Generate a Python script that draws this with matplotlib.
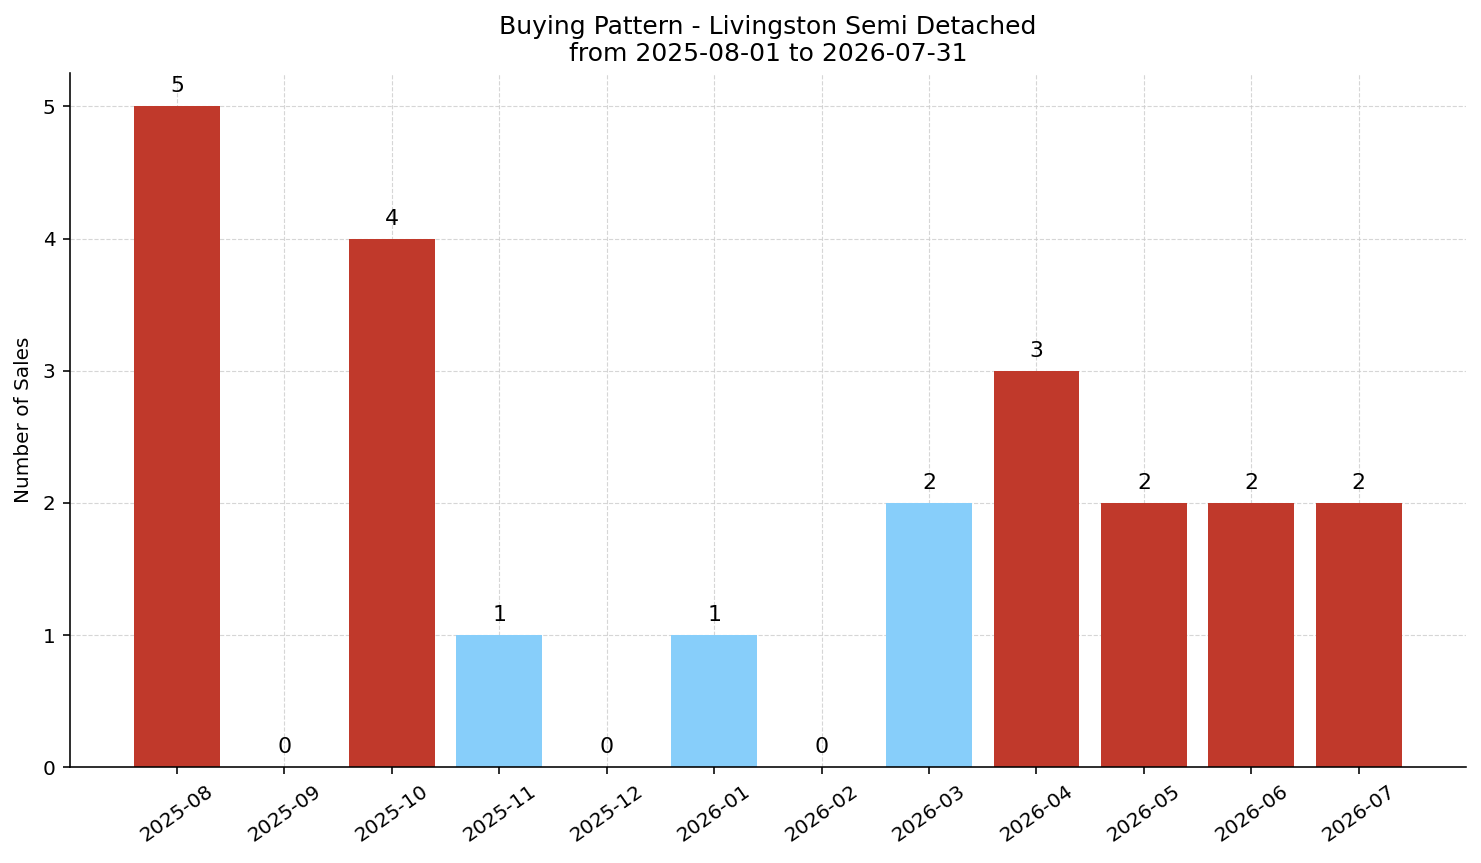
import matplotlib
matplotlib.use("Agg")
import matplotlib.pyplot as plt

months = ["2025-08", "2025-09", "2025-10", "2025-11", "2025-12", "2026-01",
          "2026-02", "2026-03", "2026-04", "2026-05", "2026-06", "2026-07"]
sales = [5, 0, 4, 1, 0, 1, 0, 2, 3, 2, 2, 2]
colors = ["#c0392b", "#87cefa", "#c0392b", "#87cefa", "#87cefa", "#87cefa",
          "#87cefa", "#87cefa", "#c0392b", "#c0392b", "#c0392b", "#c0392b"]

s = 1.44
fig, ax = plt.subplots(figsize=(14.81, 8.63), dpi=100)
x = list(range(len(months)))
ax.bar(x, sales, width=0.8, color=colors, zorder=2)
for xi, v in zip(x, sales):
    ax.text(xi, v + 0.075, str(v), ha="center", va="bottom", fontsize=11 * s, zorder=3)

ax.set_xticks(x)
ax.set_xticklabels(months, rotation=35, fontsize=10 * s)
ax.tick_params(axis="both", labelsize=10 * s, length=3.5 * s, width=0.8 * s, pad=3.5 * s)
ax.set_xlim(-1.0, 12.0)
ax.set_ylim(0, 5.25)
ax.set_yticks(range(6))
ax.set_ylabel("Number of Sales", fontsize=10 * s, labelpad=4 * s + 1)
ax.set_title("Buying Pattern - Livingston Semi Detached\nfrom 2025-08-01 to 2026-07-31",
             fontsize=18, pad=6 * s)
ax.grid(True, linestyle="--", color="#cccccc", alpha=0.8, linewidth=0.8 * s * 0.7,
        dashes=(3.7 * s * 0.7, 1.6 * s * 0.7), zorder=0)
ax.spines["top"].set_visible(False)
ax.spines["right"].set_visible(False)
ax.spines["left"].set_linewidth(0.8 * s)
ax.spines["bottom"].set_linewidth(0.8 * s)
fig.subplots_adjust(left=0.047, right=0.99, top=0.915, bottom=0.111)
fig.savefig("out.png", dpi=100)
